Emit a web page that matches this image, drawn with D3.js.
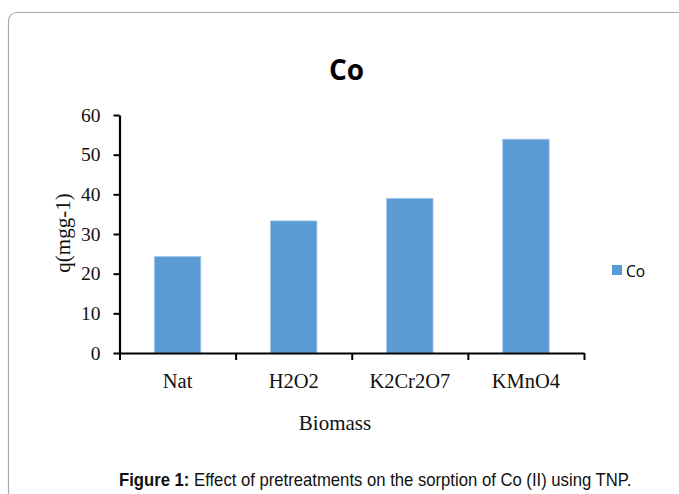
<!DOCTYPE html>
<html>
<head>
<meta charset="utf-8">
<script src="https://cdn.jsdelivr.net/npm/d3@7/dist/d3.min.js"></script>
<style>
  html, body { margin: 0; padding: 0; background: #fff; }
  svg { display: block; }
</style>
</head>
<body>
<svg id="chart" width="679" height="494"></svg>
<script>
// Sorption capacity of Co for each biomass pretreatment
const categories = ["Nat", "H2O2", "K2Cr2O7", "KMnO4"];
const coValues = [24.3, 33.3, 39.0, 53.9];
const yTicks = [0, 10, 20, 30, 40, 50, 60];
const seriesName = "Co";

const svg = d3.select("#chart");
const W = 679, H = 494;
const plot = { left: 119.5, right: 584, top: 115, bottom: 353 };

const serif = "'Liberation Serif', 'Times New Roman', serif";
const sans = "'Open Sans', 'Liberation Sans', sans-serif";

// Card frame
svg.append("rect")
  .attr("x", 8.5).attr("y", 12.5)
  .attr("width", 720).attr("height", 540)
  .attr("rx", 8).attr("ry", 8)
  .attr("fill", "#fff")
  .attr("stroke", "#a9a9a9").attr("stroke-width", 1.2);

// Scales
const x = d3.scaleBand()
  .domain(categories)
  .range([plot.left, plot.right])
  .paddingInner(0.6)
  .paddingOuter(0.3);

const y = d3.scaleLinear()
  .domain([0, 60])
  .range([plot.bottom, plot.top]);

// Bars
svg.append("g").selectAll("rect")
  .data(categories.map((c, i) => ({ c, v: coValues[i] })))
  .join("rect")
  .attr("x", d => x(d.c))
  .attr("y", d => y(d.v))
  .attr("width", x.bandwidth())
  .attr("height", d => y(0) - y(d.v))
  .attr("fill", "#5b9bd5")
  .attr("stroke", "#a4c6e9")
  .attr("stroke-width", 0.8);

// Y axis
const yAxis = svg.append("g")
  .attr("transform", `translate(${plot.left},0)`)
  .call(d3.axisLeft(y).tickValues(yTicks).tickSize(6).tickPadding(13).tickSizeOuter(0));
yAxis.select(".domain").attr("stroke", "#000").attr("stroke-width", 2.2);
yAxis.selectAll(".tick line").attr("stroke", "#000").attr("stroke-width", 2);
yAxis.selectAll(".tick text")
  .attr("font-family", serif).attr("font-size", 19.5).attr("fill", "#111");

// X axis: ticks on category boundaries
const xEdges = d3.scaleLinear().domain([0, categories.length]).range([plot.left, plot.right]);
const xAxis = svg.append("g")
  .attr("transform", `translate(0,${plot.bottom})`)
  .call(d3.axisBottom(xEdges).tickValues(d3.range(categories.length + 1)).tickSize(7).tickSizeOuter(0).tickFormat(""));
xAxis.select(".domain").attr("stroke", "#000").attr("stroke-width", 2.2);
xAxis.selectAll(".tick line").attr("stroke", "#000").attr("stroke-width", 2);

// Category labels
svg.append("g").selectAll("text")
  .data(categories)
  .join("text")
  .attr("x", d => x(d) + x.bandwidth() / 2)
  .attr("y", 388)
  .attr("text-anchor", "middle")
  .attr("font-family", serif).attr("font-size", 20.5).attr("fill", "#111")
  .text(d => d);

// Axis titles
svg.append("text")
  .attr("x", 335).attr("y", 430)
  .attr("text-anchor", "middle")
  .attr("font-family", serif).attr("font-size", 21).attr("fill", "#111")
  .text("Biomass");

svg.append("text")
  .attr("transform", "translate(70,233) rotate(-90)")
  .attr("text-anchor", "middle")
  .attr("font-family", serif).attr("font-size", 21).attr("fill", "#111")
  .text("q(mgg-1)");

// Chart title
svg.append("text")
  .attr("x", 346.5).attr("y", 80)
  .attr("text-anchor", "middle")
  .attr("font-family", sans).attr("font-weight", 700).attr("font-size", 28).attr("fill", "#000")
  .text(seriesName);

// Legend
const legend = svg.append("g");
legend.append("rect")
  .attr("x", 612).attr("y", 265).attr("width", 10).attr("height", 10)
  .attr("fill", "#5b9bd5");
legend.append("text")
  .attr("x", 626).attr("y", 277)
  .attr("font-family", sans).attr("font-size", 15.5).attr("fill", "#000")
  .text(seriesName);

// Figure caption, condensed to the caption width
const cap = svg.append("text")
  .attr("font-family", "'Liberation Sans', Arial, sans-serif")
  .attr("font-size", 17.5).attr("fill", "#111");
cap.append("tspan").attr("font-weight", 700).text("Figure 1:");
cap.append("tspan").text(" Effect of pretreatments on the sorption of Co (II) using TNP.");
const capW = cap.node().getComputedTextLength();
cap.attr("transform", `translate(119,486) scale(${513 / capW},1)`);
</script>
</body>
</html>
